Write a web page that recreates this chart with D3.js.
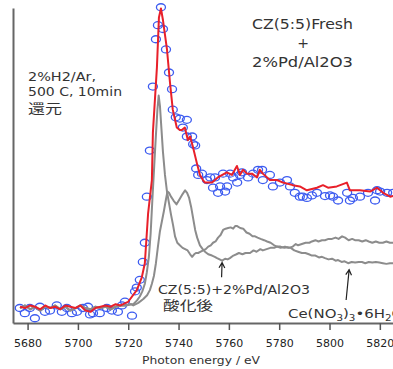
<!DOCTYPE html>
<html><head><meta charset="utf-8">
<script src="https://cdn.jsdelivr.net/npm/d3@7"></script>
<style>body{margin:0;background:#fff;overflow:hidden}svg{display:block}</style>
</head><body><div id="chart"></div>
<script>
// ---- data (energy in eV, normalized absorption) ----
const xTicks = [5680,5700,5720,5740,5760,5780,5800,5820];

const blueEnergy = [5676.9,5678.9,5680.9,5682.9,5684.9,5686.9,5688.9,5691.6,5693.6,5695.6,5697.6,5699.6,5702.0,5704.0,5704.8,5706.0,5708.7,5711.5,5713.5,5715.9,5717.5,5718.7,5721.5,
 5722.7,5723.4,5724.6,5725.8,5726.6,5727.4,5728.6,5729.8,5731.0,5731.8,5733.0,5733.8,5735.0,5736.2,5737.4,5737.7,5738.9,5740.5,5741.7,5743.3,5743.3,5745.4,5745.8,5746.6,5747.0,5747.8,
 5749.3,5751.3,5752.6,5753.7,5754.5,5755.7,5756.5,5757.7,5758.5,5759.3,5760.5,5761.7,5763.3,5764.4,5765.2,5767.6,5769.6,5771.6,5773.2,5773.5,5776.3,5777.5,5780.3,5783.1,5784.3,5786.2,
 5788.2,5789.4,5791.0,5793.0,5795.0,5798.2,5800.2,5801.4,5803.4,5807.0,5808.1,5809.3,5812.1,5815.3,5818.1,5818.9,5820.1,5822.9,5825.3];
const blueAbs = [0.00,-0.04,0.00,-0.08,0.01,-0.03,-0.02,0.02,-0.03,0.00,-0.04,-0.03,0.00,0.01,-0.05,-0.04,-0.04,0.00,-0.02,-0.03,0.02,0.05,-0.06,
 0.13,0.16,0.22,0.36,0.51,0.87,1.23,1.73,2.10,2.21,2.35,2.18,2.02,1.84,1.71,1.55,1.49,1.48,1.41,1.47,1.34,1.34,1.28,1.27,1.09,1.04,
 1.05,1.00,1.02,0.94,1.02,0.90,0.95,1.05,0.91,0.95,1.05,1.02,0.98,1.04,1.06,1.02,1.05,1.08,1.08,1.00,1.04,0.95,0.98,1.00,0.95,0.90,
 0.87,0.87,0.86,0.88,0.90,0.875,0.88,0.87,0.84,0.90,0.84,0.86,0.87,0.90,0.84,0.92,0.91,0.90,0.90];

const redEnergy = [5677,5679,5681,5683,5685,5687,5689,5691,5693,5695,5697,5699,5701,5703,5705,5707,5709,5711,5713,5715,5717,5719,
 5719.9,5723.4,5725.4,5726.6,5727.9,5729.4,5729.8,5731.4,5732.2,5733.0,5733.8,5735.4,5736.6,5737.7,5739.3,5740.5,5741.3,5742.5,5743.7,5744.6,5745.7,5747.3,5748.5,5749.7,
 5750.5,5753.3,5755.6,5759.2,5761.2,5763.2,5764.4,5765.6,5767.2,5769.2,5771.2,5772.3,5773.5,5776.3,5779.1,5781.5,5785.4,5788.2,5791.0,5795.0,5797.4,5799.4,5802.9,5806.9,
 5808.1,5812.1,5816.1,5818.9,5821.3,5824.1,5826.1];
const redAbs = [0.01,0.00,0.02,0.01,-0.01,0.02,0.00,0.01,-0.01,0.02,0.01,0.00,0.02,-0.02,-0.03,0.00,0.01,0.02,0.01,0.03,0.02,0.04,
 0.047,0.14,0.24,0.35,0.74,1.00,1.37,1.88,2.27,2.34,2.25,2.02,1.76,1.55,1.41,1.39,1.39,1.41,1.31,1.34,1.26,1.13,1.04,1.00,
 0.98,0.98,1.02,1.06,1.04,1.11,1.04,1.08,1.05,1.05,1.02,1.08,1.05,1.00,1.00,0.98,0.96,0.95,0.92,0.94,0.96,0.94,0.95,0.98,
 0.92,0.92,0.91,0.94,0.90,0.87,0.88];

const czEnergy = [5677,5679,5681,5683,5685,5687,5689,5691,5693,5695,5697,5699,5701,5703,5705,5707,5709,5711,5713,5715,5717,5719,5721,
 5722,5724,5726,5727.5,5728.6,5729.4,5730.2,5731.0,5731.8,5732.6,5733.4,5734.2,5735.0,5735.6,5736.2,5737.0,5738.0,5739.2,5740.4,5741.6,5742.6,5743.4,5744.2,5745.0,5745.8,5746.6,5747.4,
 5748.5,5749.6,5750.5,5751.8,5753.3,5754.4,5755.3,5756.3,5757.3,5758.5,5759.5,5760.4,5761.8,5763.0,5764.0,5765.4,5766.6,5768.4,5769.8,5771.0,5772.5,5773.5,5775.0,5776.5,5778.0,
 5779.1,5780.6,5782.3,5783.8,5785.4,5786.6,5787.5,5789.0,5790.5,5792.0,5793.0,5794.4,5795.6,5797.0,5798.2,5799.6,5801.0,5802.4,5803.6,5805.0,5806.2,5807.6,5809.0,5810.1,
 5811.6,5813.0,5814.4,5815.6,5817.0,5818.4,5819.8,5821.2,5822.6,5824.0,5825.4,5827.0];
const czAbs = [0.00,0.02,-0.01,0.01,-0.02,0.01,0.00,0.02,-0.01,0.01,-0.02,0.00,0.02,0.00,-0.01,0.01,0.00,0.01,-0.01,0.01,0.02,0.02,0.03,
 0.02,0.04,0.07,0.10,0.14,0.19,0.25,0.35,0.48,0.60,0.68,0.76,0.85,0.91,0.90,0.87,0.84,0.81,0.85,0.89,0.92,0.90,0.86,0.79,0.70,0.61,0.55,
 0.49,0.46,0.44,0.42,0.41,0.40,0.39,0.38,0.37,0.385,0.38,0.39,0.41,0.42,0.43,0.42,0.43,0.43,0.45,0.44,0.46,0.45,0.46,0.47,0.47,
 0.48,0.47,0.48,0.47,0.48,0.50,0.49,0.50,0.51,0.51,0.52,0.53,0.52,0.53,0.53,0.54,0.54,0.55,0.54,0.56,0.55,0.53,0.54,0.53,
 0.53,0.52,0.53,0.52,0.51,0.52,0.51,0.51,0.52,0.51,0.51,0.52];

const ceEnergy = [5677,5679,5681,5683,5685,5687,5689,5691,5693,5695,5697,5699,5701,5703,5705,5707,5709,5711,5713,5715,5717,5719,5721,
 5722,5723.5,5724.6,5725.6,5726.6,5727.4,5728.2,5728.9,5729.6,5730.3,5731.0,5731.6,5732.1,5732.6,5733.2,5733.8,5734.6,5735.4,5736.2,5737.0,5737.8,5738.6,5739.5,5740.5,5741.6,5742.6,5743.6,
 5744.6,5745.4,5746.2,5746.9,5747.8,5748.8,5749.8,5750.8,5751.8,5752.8,5753.7,5754.7,5755.7,5756.7,5757.7,5758.7,5759.7,5760.7,5761.7,5762.5,5763.3,5764.5,5765.7,5767.0,5768.2,
 5769.4,5770.4,5771.4,5772.6,5774.0,5775.2,5776.6,5778.0,5779.1,5780.5,5782.0,5783.4,5784.6,5786.0,5787.5,5789.0,5790.4,5791.8,5793.0,5794.4,5795.8,5797.0,5798.2,5799.6,
 5801.0,5802.4,5803.4,5804.8,5806.0,5807.4,5808.8,5810.2,5811.6,5812.9,5814.2,5815.6,5817.0,5818.4,5819.8,5821.2,5822.6,5824.0,5825.4,5827.0];
const ceAbs = [0.00,0.02,-0.01,0.01,-0.02,0.01,0.00,0.02,-0.01,0.01,-0.02,0.00,0.02,0.00,-0.01,0.01,0.00,0.01,-0.01,0.01,0.02,0.02,0.03,
 0.03,0.06,0.09,0.13,0.19,0.28,0.40,0.58,0.85,1.10,1.35,1.55,1.66,1.58,1.40,1.22,1.04,0.91,0.82,0.73,0.65,0.56,0.51,0.49,0.47,0.46,0.45,
 0.42,0.40,0.42,0.43,0.43,0.44,0.45,0.46,0.48,0.49,0.51,0.52,0.55,0.57,0.61,0.62,0.625,0.63,0.62,0.64,0.64,0.625,0.62,0.59,0.58,
 0.56,0.56,0.55,0.54,0.53,0.52,0.51,0.49,0.48,0.48,0.47,0.475,0.47,0.45,0.44,0.43,0.43,0.42,0.41,0.41,0.395,0.40,0.39,0.38,
 0.385,0.37,0.375,0.36,0.365,0.35,0.36,0.355,0.36,0.36,0.35,0.36,0.355,0.36,0.355,0.35,0.345,0.35,0.35,0.34];

// ---- chart ----
const W = 393, H = 369;
const x = d3.scaleLinear().domain([5674.2, 5830]).range([13, 405]);
const y = d3.scaleLinear().domain([-0.117, 2.344]).range([323, 8]);
const font = "'DejaVu Sans','Noto Sans CJK JP',sans-serif";
const textCol = "#333";

const svg = d3.select('#chart').append('svg').attr('width', W).attr('height', H);

// axes
const gx = svg.append('g').attr('transform', `translate(0,${y.range()[0]})`)
  .call(d3.axisBottom(x).tickValues(xTicks).tickFormat(d3.format('d')).tickSize(7).tickSizeOuter(0).tickPadding(9));
gx.select('.domain').attr('stroke', '#666').attr('stroke-width', 2);
gx.selectAll('.tick line').attr('stroke', '#555').attr('stroke-width', 1.5);
gx.selectAll('.tick text').attr('font-family', font).attr('font-size', 11).attr('fill', '#222');

const gy = svg.append('g').attr('transform', `translate(${x.range()[0]},0)`)
  .call(d3.axisLeft(y).tickValues([]).tickSizeOuter(0));
gy.select('.domain').attr('stroke', '#666').attr('stroke-width', 2);

const line = d3.line().x(d => x(d[0])).y(d => y(d[1]));

// blue circles
svg.append('g').selectAll('ellipse').data(d3.zip(blueEnergy, blueAbs)).join('ellipse')
  .attr('cx', d => x(d[0])).attr('cy', d => y(d[1]))
  .attr('rx', 4.5).attr('ry', 3.5)
  .attr('fill', 'none').attr('stroke', '#3d5cf0').attr('stroke-width', 1.3);

// gray references
svg.append('path').datum(d3.zip(czEnergy, czAbs)).attr('d', line)
  .attr('fill', 'none').attr('stroke', '#8c8c8c').attr('stroke-width', 2).attr('stroke-linejoin', 'round');
svg.append('path').datum(d3.zip(ceEnergy, ceAbs)).attr('d', line)
  .attr('fill', 'none').attr('stroke', '#8c8c8c').attr('stroke-width', 2).attr('stroke-linejoin', 'round');

// red fit
svg.append('path').datum(d3.zip(redEnergy, redAbs)).attr('d', line)
  .attr('fill', 'none').attr('stroke', '#e8202a').attr('stroke-width', 2).attr('stroke-linejoin', 'round');

// labels
function label(txt, px, py, size, anchor, len) {
  const t = svg.append('text').attr('x', px).attr('y', py)
    .attr('font-family', font).attr('font-size', size).attr('fill', textCol)
    .attr('text-anchor', anchor).text(txt);
  if (len) t.attr('textLength', len).attr('lengthAdjust', 'spacingAndGlyphs');
  return t;
}
label('CZ(5:5)Fresh', 302.5, 29, 14, 'middle', 101);
label('+', 303, 48, 14, 'middle');
label('2%Pd/Al2O3', 302.5, 67, 14, 'middle', 101);
label('2%H2/Ar,', 28, 80.5, 13, 'start', 68);
label('500 C, 10min', 28, 95.5, 13, 'start', 94);
label('還元', 28, 113, 13, 'start', 34);
label('CZ(5:5)+2%Pd/Al2O3', 158, 293.5, 13, 'start', 152);
label('酸化後', 163, 310, 13, 'start', 50);
label('Photon energy / eV', 201, 364, 11, 'middle', 118);

const ce = svg.append('text').attr('transform', 'translate(288,318) scale(1.15,1)')
  .attr('font-family', font).attr('font-size', 13).attr('fill', textCol);
ce.append('tspan').text('Ce(NO');
ce.append('tspan').attr('font-size', 9).attr('dy', 3).text('3');
ce.append('tspan').attr('dy', -3).text(')');
ce.append('tspan').attr('font-size', 9).attr('dy', 3).text('3');
ce.append('tspan').attr('dy', -3).text('•6H');
ce.append('tspan').attr('font-size', 9).attr('dy', 3).text('2');
ce.append('tspan').attr('dy', -3).text('O');

// arrows
function arrow(e0, a0, e1, a1) {
  const x0 = x(e0), y0 = y(a0), x1 = x(e1), y1 = y(a1);
  const ang = Math.atan2(y1 - y0, x1 - x0);
  const L = 6, w = 0.5;
  svg.append('path')
    .attr('d', `M${x0},${y0}L${x1},${y1}M${x1 - L*Math.cos(ang - w)},${y1 - L*Math.sin(ang - w)}L${x1},${y1}L${x1 - L*Math.cos(ang + w)},${y1 - L*Math.sin(ang + w)}`)
    .attr('fill', 'none').attr('stroke', '#222').attr('stroke-width', 1.2);
}
arrow(5757.1, 0.24, 5757.3, 0.355);
arrow(5806.6, 0.0625, 5807.8, 0.30);
</script></body></html>
